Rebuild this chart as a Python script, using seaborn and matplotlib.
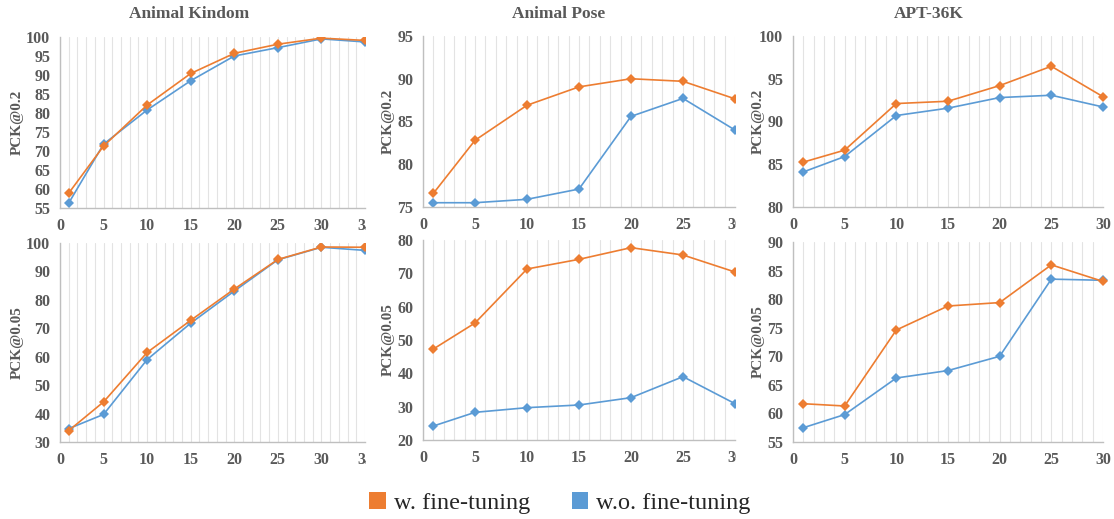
import numpy as np
import pandas as pd
import matplotlib
matplotlib.use("Agg")
import matplotlib.pyplot as plt
import seaborn as sns
from matplotlib.ticker import MultipleLocator
from matplotlib.transforms import Bbox, TransformedBbox
from matplotlib.patches import Patch

# ---- data ----
epochs_ak = [1, 5, 10, 15, 20, 25, 30, 35]
epochs = [1, 5, 10, 15, 20, 25, 30]

ak_02_ft = [58.9, 71.3, 82.1, 90.4, 95.7, 98.1, 99.7, 99.1]
ak_02_noft = [56.3, 71.8, 80.8, 88.5, 95.0, 97.2, 99.5, 98.7]
ak_005_ft = [34.0, 44.1, 61.5, 72.8, 83.8, 94.2, 98.6, 98.5]
ak_005_noft = [34.7, 39.7, 59.0, 71.8, 83.1, 94.1, 98.5, 97.4]

ap_02_ft = [76.6, 82.8, 86.9, 89.05, 90.0, 89.7, 87.65]
ap_02_noft = [75.5, 75.5, 75.9, 77.1, 85.6, 87.7, 84.0]
ap_005_ft = [47.3, 55.1, 71.3, 74.2, 77.7, 75.5, 70.4]
ap_005_noft = [24.2, 28.3, 29.7, 30.5, 32.7, 39.0, 30.9]

apt_02_ft = [85.25, 86.65, 92.1, 92.37, 94.2, 96.46, 92.9]
apt_02_noft = [84.1, 85.9, 90.7, 91.56, 92.8, 93.07, 91.7]
apt_005_ft = [61.7, 61.3, 74.6, 78.8, 79.4, 86.0, 83.1]
apt_005_noft = [57.5, 59.8, 66.2, 67.5, 70.0, 83.5, 83.3]

titles = ["Animal Kindom", "Animal Pose", "APT-36K"]
labels = ["w. fine-tuning", "w.o. fine-tuning"]
palette = {labels[0]: "#ED7D31", labels[1]: "#5B9BD5"}

sns.set_theme(style="white")
plt.rcParams["font.family"] = ["Liberation Serif", "DejaVu Serif"]

GRAY = "#595959"
W, H = 1114, 519


def px_axes(fig, left, right, top, bottom):
    return fig.add_axes([left / W, 1 - bottom / H, (right - left) / W, (bottom - top) / H])


def draw_panel(ax, x, ft, noft, xmax, ylim, ystep, ylabel, ylabel_px, left_px, right_px,
               clip_marks=True, clip_last_label=False):
    df = pd.DataFrame({
        "epoch": list(x) * 2,
        "pck": list(noft) + list(ft),
        "setting": [labels[1]] * len(x) + [labels[0]] * len(x),
    })
    sns.lineplot(data=df, x="epoch", y="pck", hue="setting", hue_order=[labels[1], labels[0]],
                 palette=palette, marker="D", markersize=4.8, markeredgewidth=0,
                 linewidth=1.2, estimator=None, legend=False, ax=ax)
    if not clip_marks:
        for ln in ax.lines:
            ln.set_clip_on(False)
    ax.set_xlim(0, xmax)
    ax.set_ylim(*ylim)
    ax.set_xticks(np.arange(0, xmax + 1, 5))
    ax.set_yticks(np.arange(ylim[0], ylim[1] + 0.1, ystep))
    ax.xaxis.set_minor_locator(MultipleLocator(1))
    ax.grid(which="both", axis="x", color="#E3E3E3", linewidth=0.8)
    ax.grid(False, axis="y")
    for s in ["top", "right"]:
        ax.spines[s].set_visible(False)
    for s in ["left", "bottom"]:
        ax.spines[s].set_color("#BFBFBF")
        ax.spines[s].set_linewidth(1.0)
    ax.tick_params(axis="both", which="both", length=0, pad=7, labelsize=11.5, labelcolor=GRAY)
    for lab in ax.get_xticklabels() + ax.get_yticklabels():
        lab.set_fontweight("bold")
    ax.set_xlabel("")
    ax.set_ylabel(ylabel, fontsize=11, fontweight="bold", color=GRAY)
    ax.yaxis.set_label_coords((ylabel_px - left_px) / (right_px - left_px), 0.5)
    if clip_last_label:
        box = TransformedBbox(Bbox([[-0.3, -0.5], [1.004, 1.0]]), ax.transAxes)
        lab = ax.get_xticklabels()[-1]
        lab.set_clip_on(True)
        lab.set_clip_box(box)


fig = plt.figure(figsize=(W / 100, H / 100), dpi=100)

# (left px, right px, y-label right edge px)
cols = [(60, 365, 24), (423, 735, 395), (793, 1103, 765)]

ax1 = px_axes(fig, cols[0][0], cols[0][1], 37, 208)
draw_panel(ax1, epochs_ak, ak_02_ft, ak_02_noft, 35, (55, 100), 5, "PCK@0.2",
           cols[0][2], cols[0][0], cols[0][1], clip_last_label=True)
ax2 = px_axes(fig, cols[1][0], cols[1][1], 36, 207)
draw_panel(ax2, epochs, ap_02_ft, ap_02_noft, 30, (75, 95), 5, "PCK@0.2",
           cols[1][2], cols[1][0], cols[1][1], clip_last_label=True)
ax3 = px_axes(fig, cols[2][0], cols[2][1], 36, 207)
draw_panel(ax3, epochs, apt_02_ft, apt_02_noft, 30, (80, 100), 5, "PCK@0.2",
           cols[2][2], cols[2][0], cols[2][1], clip_marks=False)

ax4 = px_axes(fig, cols[0][0], cols[0][1], 243, 442)
draw_panel(ax4, epochs_ak, ak_005_ft, ak_005_noft, 35, (30, 100), 10, "PCK@0.05",
           cols[0][2], cols[0][0], cols[0][1], clip_last_label=True)
ax5 = px_axes(fig, cols[1][0], cols[1][1], 240, 440)
draw_panel(ax5, epochs, ap_005_ft, ap_005_noft, 30, (20, 80), 10, "PCK@0.05",
           cols[1][2], cols[1][0], cols[1][1], clip_last_label=True)
ax6 = px_axes(fig, cols[2][0], cols[2][1], 242, 442)
draw_panel(ax6, epochs, apt_005_ft, apt_005_noft, 30, (55, 90), 5, "PCK@0.05",
           cols[2][2], cols[2][0], cols[2][1], clip_marks=False)

for title, cx in zip(titles, [189, 559, 929]):
    fig.text(cx / W, 1 - 14 / H, title, ha="center", va="center",
             fontsize=12.5, fontweight="bold", color=GRAY)

handles = [Patch(facecolor=palette[l], edgecolor="none", label=l) for l in labels]
fig.legend(handles=handles, loc="center", bbox_to_anchor=(560 / W, 1 - 503 / H), ncol=2,
           frameon=False, fontsize=17.5, handlelength=0.66, handleheight=0.66,
           handletextpad=0.35, columnspacing=1.7)

fig.savefig("out.png", dpi=100)
plt.close(fig)
